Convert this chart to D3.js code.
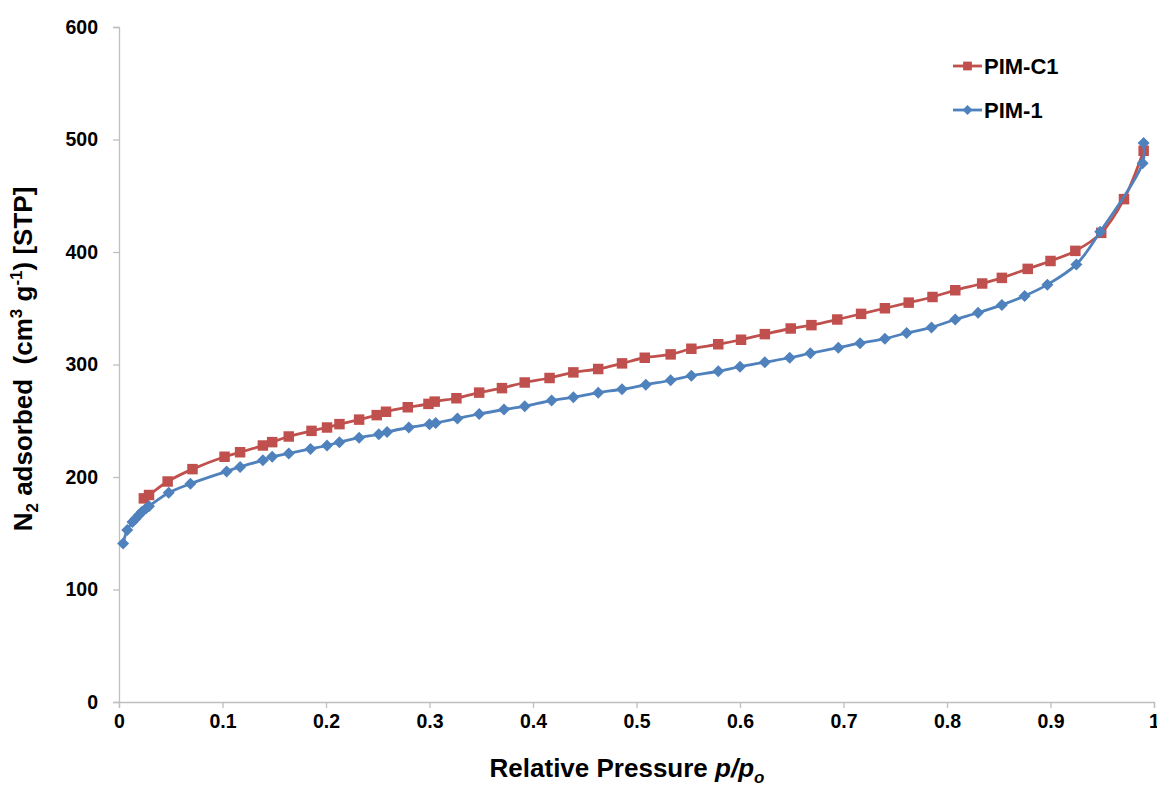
<!DOCTYPE html>
<html>
<head>
<meta charset="utf-8">
<script src="https://cdn.jsdelivr.net/npm/d3@7"></script>
<style>
  body { margin: 0; background: #fff; }
  text { font-family: "Liberation Sans", Arial, sans-serif; font-weight: bold; fill: #000; }
</style>
</head>
<body>
<script>
// N2 isotherms, relative pressure vs adsorbed volume
const pimC1X = [0.024, 0.029, 0.047, 0.071, 0.102, 0.117, 0.139, 0.148, 0.164, 0.186, 0.201, 0.213,
  0.232, 0.249, 0.258, 0.279, 0.299, 0.305, 0.326, 0.348, 0.370, 0.392, 0.416, 0.439, 0.463, 0.486,
  0.508, 0.533, 0.553, 0.579, 0.601, 0.624, 0.649, 0.669, 0.694, 0.717, 0.740, 0.763, 0.786, 0.808,
  0.834, 0.853, 0.878, 0.900, 0.924, 0.949, 0.971, 0.990];
const pimC1Y = [181, 184, 196, 207, 218, 222, 228, 231, 236, 241, 244, 247,
  251, 255, 258, 262, 265, 267, 270, 275, 279, 284, 288, 293, 296, 301,
  306, 309, 314, 318, 322, 327, 332, 335, 340, 345, 350, 355, 360, 366,
  372, 377, 385, 392, 401, 417, 447, 490];

const pim1X = [0.004, 0.008, 0.013, 0.016, 0.019, 0.022, 0.026, 0.029, 0.048, 0.069, 0.104, 0.117,
  0.139, 0.148, 0.164, 0.185, 0.201, 0.213, 0.232, 0.251, 0.259, 0.280, 0.300, 0.306, 0.327, 0.348,
  0.372, 0.392, 0.418, 0.439, 0.463, 0.486, 0.509, 0.533, 0.553, 0.579, 0.600, 0.624, 0.648, 0.668,
  0.695, 0.716, 0.740, 0.761, 0.785, 0.808, 0.830, 0.853, 0.875, 0.897, 0.925, 0.948, 0.989, 0.990];
const pim1Y = [141, 153, 160, 163, 166, 169, 172, 174, 186, 194, 205, 209,
  215, 218, 221, 225, 228, 231, 235, 238, 240, 244, 247, 248, 252, 256,
  260, 263, 268, 271, 275, 278, 282, 286, 290, 294, 298, 302, 306, 310,
  315, 319, 323, 328, 333, 340, 346, 353, 361, 371, 389, 418, 479, 497];

const xTicks = [0, 0.1, 0.2, 0.3, 0.4, 0.5, 0.6, 0.7, 0.8, 0.9, 1];
const yTicks = [0, 100, 200, 300, 400, 500, 600];

const RED = '#c0504d', BLUE = '#4f81bd', AXIS = '#bfbfbf';
const W = 1157, H = 789;
const M = { left: 119, right: 3, top: 27, bottom: 87 };

// square-ish diamond like Excel's marker (d3's own is tall and thin)
const excelDiamond = {
  draw(ctx, size) {
    const r = Math.sqrt(size / 2);
    ctx.moveTo(0, -r); ctx.lineTo(r, 0); ctx.lineTo(0, r); ctx.lineTo(-r, 0); ctx.closePath();
  }
};

const svg = d3.select('body').append('svg')
  .attr('width', W).attr('height', H);

const x = d3.scaleLinear().domain([0, 1]).range([M.left, W - M.right]);
const y = d3.scaleLinear().domain([0, 600]).range([H - M.bottom, M.top]);

// axes
const xAxis = svg.append('g')
  .attr('transform', `translate(0,${y(0)})`)
  .call(d3.axisBottom(x).tickValues(xTicks).tickSize(6).tickPadding(6)
    .tickFormat(d => d === 0 || d === 1 ? d3.format('d')(d) : d3.format('.1f')(d)));
const yAxis = svg.append('g')
  .attr('transform', `translate(${x(0)},0)`)
  .call(d3.axisLeft(y).tickValues(yTicks).tickSize(6).tickPadding(15));

[xAxis, yAxis].forEach(g => {
  g.select('.domain').attr('stroke', AXIS).attr('stroke-width', 1.3);
  g.selectAll('.tick line').attr('stroke', AXIS).attr('stroke-width', 1.3);
  g.selectAll('.tick text').attr('font-size', 19.5).attr('font-family', '"Liberation Sans", Arial, sans-serif')
    .attr('font-weight', 'bold').attr('fill', '#000');
});

// axis titles
const xt = svg.append('text')
  .attr('x', 627).attr('y', 777)
  .attr('text-anchor', 'middle').attr('font-size', 26);
xt.append('tspan').text('Relative Pressure ');
xt.append('tspan').attr('font-style', 'italic').text('p/p');
xt.append('tspan').attr('font-style', 'italic').attr('font-size', 17).attr('dy', 6).text('o');

const yt = svg.append('text')
  .attr('transform', `translate(32,359) rotate(-90)`)
  .attr('text-anchor', 'middle').attr('font-size', 26);
yt.append('tspan').text('N');
yt.append('tspan').attr('font-size', 17).attr('dy', 6).text('2');
yt.append('tspan').attr('dy', -6).attr('xml:space', 'preserve').text(' adsorbed\u00a0 (cm');
yt.append('tspan').attr('font-size', 17).attr('dy', -10).text('3');
yt.append('tspan').attr('dy', 10).text(' g');
yt.append('tspan').attr('font-size', 17).attr('dy', -10).text('-1');
yt.append('tspan').attr('dy', 10).text(') [STP]');

// series
const series = [
  { name: 'PIM-C1', xs: pimC1X, ys: pimC1Y, color: RED, shape: d3.symbolSquare, size: 110 },
  { name: 'PIM-1', xs: pim1X, ys: pim1Y, color: BLUE, shape: excelDiamond, size: 72 }
];

const line = d3.line()
  .x(d => x(d[0])).y(d => y(d[1]))
  .curve(d3.curveCatmullRom.alpha(0.5));

series.forEach(s => {
  const pts = s.xs.map((v, i) => [v, s.ys[i]]);
  svg.append('path')
    .attr('d', line(pts))
    .attr('fill', 'none')
    .attr('stroke', s.color)
    .attr('stroke-width', 2.8);
  svg.append('g').selectAll('path')
    .data(pts).join('path')
    .attr('transform', d => `translate(${x(d[0])},${y(d[1])})`)
    .attr('d', d3.symbol().type(s.shape).size(s.size))
    .attr('fill', s.color);
});

// legend
const leg = svg.append('g').attr('transform', 'translate(953,66)');
series.forEach((s, i) => {
  const g = leg.append('g').attr('transform', `translate(0,${i * 44})`);
  g.append('line').attr('x1', 0).attr('x2', 29)
    .attr('stroke', s.color).attr('stroke-width', 2.8);
  g.append('path').attr('transform', 'translate(14.5,0)')
    .attr('d', d3.symbol().type(s.shape).size(s.size * 0.7))
    .attr('fill', s.color);
  g.append('text').attr('x', 31).attr('y', 0).attr('dy', '0.36em')
    .attr('font-size', 22).text(s.name);
});
</script>
</body>
</html>
